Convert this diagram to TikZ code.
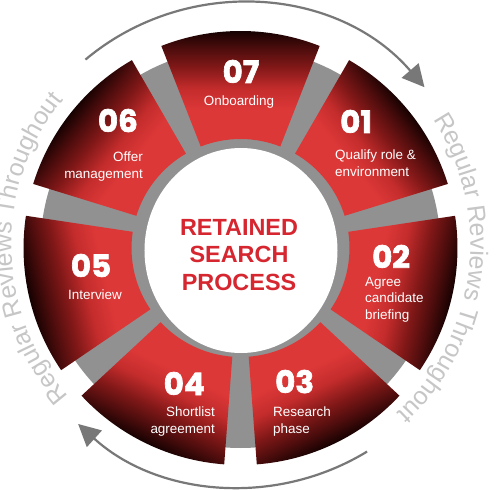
\documentclass[tikz,border=0pt]{standalone}
\usepackage{fontspec}
\setmainfont{Liberation Sans}
\newfontfamily\numfont{Poppins}[BoldFeatures={FakeBold=2.2}]
\usetikzlibrary{arrows.meta,decorations.text}
\definecolor{segred}{RGB}{221,56,56}
\definecolor{segmidA}{RGB}{196,44,44}
\definecolor{segmidB}{RGB}{130,24,24}
\definecolor{segmidC}{RGB}{75,12,12}
\definecolor{segdark}{RGB}{14,0,0}
\definecolor{ringgray}{RGB}{145,145,145}
\definecolor{revgray}{RGB}{198,198,198}
\definecolor{arrgray}{RGB}{120,120,120}
\definecolor{titlered}{RGB}{214,38,48}
\pgfdeclareverticalshading{segshade}{100bp}{color(0bp)=(segred); color(40bp)=(segred); color(49bp)=(segmidA); color(58bp)=(segmidB); color(66bp)=(segmidC); color(74bp)=(segdark); color(100bp)=(segdark)}
\newcommand\drawseg[1]{%
  \begin{scope}[transform canvas={rotate=#1}]
    \shade[shading=segshade] (68.6:109) arc[start angle=68.6,end angle=111.4,radius=109]
      -- (111.4:217) arc[start angle=111.4,end angle=68.6,radius=217] -- cycle;
  \end{scope}}
\newcommand\revfont{\fontsize{25}{30}\selectfont\color{revgray}}
\tikzset{
  num/.style={font=\numfont\bfseries\fontsize{31}{31}\selectfont, text=white, inner sep=0pt},
  lbl/.style={font=\fontsize{13.5}{16.5}\selectfont, text=white, inner sep=0pt},
  titletext/.style={font=\bfseries\fontsize{23.5}{28}\selectfont, text=titlered, inner sep=0pt, align=center},
  arrline/.style={draw=arrgray, line width=2.2bp, -{Triangle[length=22bp,width=22bp]}},
}
\begin{document}
\begin{tikzpicture}[x=1bp,y=1bp]
\useasboundingbox (-240.5,-242) rectangle (259.5,248);
\fill[white] (-240.5,-242) rectangle (259.5,248);
% gray ring and white centre
\fill[ringgray] (0,0) circle[radius=200];
% segments
\drawseg{0}
\drawseg{-51.43}
\drawseg{-102.86}
\drawseg{-154.29}
\drawseg{154.29}
\drawseg{102.86}
\drawseg{51.43}
\fill[white] (0.5,-2.5) ellipse[x radius=96.5, y radius=102.5];
% title
\node[titletext] (title) at (-1.5,-7) {RETAINED\\SEARCH\\PROCESS};
% numbers and labels
\node[num, anchor=base] (n07) at (0.5,165) {07};
\node[lbl, anchor=north, align=center] (l07) at (-1.5,152) {Onboarding};
\node[num, anchor=base west] (n01) at (99.5,115) {01};
\node[lbl, anchor=north west, align=left] (l01) at (94.5,98) {Qualify role \&\\environment};
\node[num, anchor=base west] (n02) at (131.5,-20) {02};
\node[lbl, anchor=north west, align=left] (l02) at (124.5,-29) {Agree\\candidate\\briefing};
\node[num, anchor=base west] (n03) at (34.5,-145) {03};
\node[lbl, anchor=north west, align=left] (l03) at (32.5,-158.7) {Research\\phase};
\node[num, anchor=base east] (n04) at (-35.5,-147) {04};
\node[lbl, anchor=north east, align=right] (l04) at (-25.5,-158.7) {Shortlist\\agreement};
\node[num, anchor=base] (n05) at (-149.5,-29) {05};
\node[lbl, anchor=north, align=center] (l05) at (-145.5,-42) {Interview};
\node[num, anchor=base east] (n06) at (-102.5,116) {06};
\node[lbl, anchor=north east, align=right] (l06) at (-97.5,96) {Offer\\management};
% outer ring: arrows and text
\begin{scope}[shift={(0.5,3)}]
  \coordinate (topS) at (130:242);
  \coordinate (botS) at (-58.6:242);
  \draw[arrline] (topS) arc[start angle=130, end angle=40.7, radius=242];
  \draw[arrline] (botS) arc[start angle=-58.6, end angle=-132.3, radius=242];
  \path[decorate, decoration={text along path, text={|\revfont|Regular Reviews Throughout}, text align=center}]
    (38:229.5) arc[start angle=38, end angle=-52, radius=229.5];
  \path[decorate, decoration={text along path, text={|\revfont|Regular Reviews Throughout}, text align=center}]
    (226:229.5) arc[start angle=226, end angle=136, radius=229.5];
\end{scope}
\end{tikzpicture}
\end{document}
